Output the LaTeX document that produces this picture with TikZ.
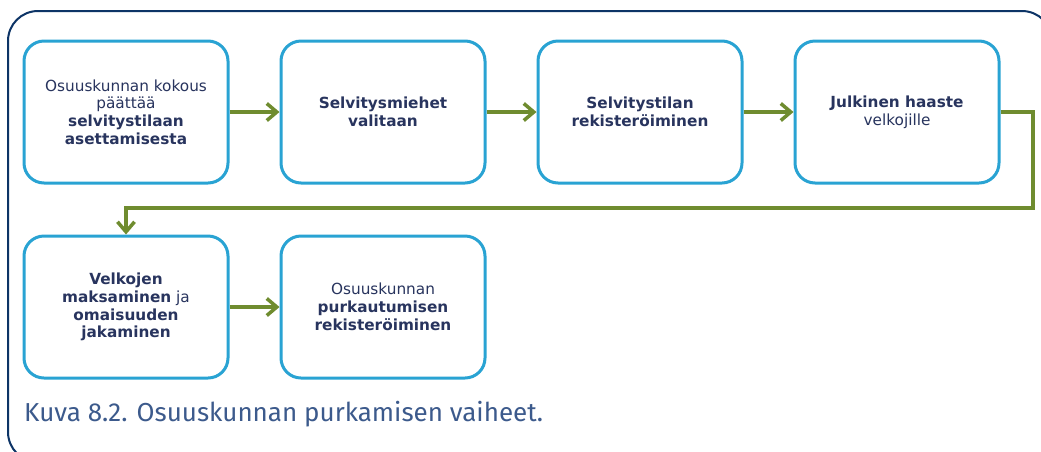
\documentclass[tikz,border=0pt]{standalone}
\usepackage{fontspec}
\setmainfont{DejaVu Sans}
\newfontfamily\captionfont{Fira Sans}
\usepackage{xcolor}
\usetikzlibrary{arrows.meta, calc, positioning}

\definecolor{boxblue}{HTML}{29A3D3}
\definecolor{framenavy}{HTML}{0D3466}
\definecolor{flowgreen}{HTML}{6F8C2F}
\definecolor{textnavy}{HTML}{28345E}
\definecolor{captionblue}{HTML}{3C5A8C}

\begin{document}
\begin{tikzpicture}[
    x=1pt, y=-1pt,
    node distance=50pt and 50pt,
    stepbox/.style={
        draw=boxblue, line width=3pt, rounded corners=20pt, fill=white,
        minimum width=204pt, minimum height=142pt, inner sep=4pt,
        align=center, text=textnavy,
        font=\fontsize{15.3}{17.8}\selectfont
    },
    flow/.style={-{Straight Barb[length=10pt, width=17pt, line width=3.5pt]},
        draw=flowgreen, line width=3.5pt},
    frame/.style={draw=framenavy, line width=2pt, rounded corners=30pt},
]
\useasboundingbox (0,0) rectangle (1041,451);
\fill[white] (0,0) rectangle (1041,451);
\draw[frame] (8,11) rectangle (1052,462);

% Row 1
\node[stepbox] (kokous) at (126,112) {Osuuskunnan kokous\\p\"a\"att\"a\"a\\\textbf{selvitystilaan}\\\textbf{asettamisesta}};
\node[stepbox, right=of kokous] (valitaan) {\textbf{Selvitysmiehet}\\\textbf{valitaan}};
\node[stepbox, right=of valitaan] (rekisteri) {\textbf{Selvitystilan}\\\textbf{rekister\"oiminen}};
\node[stepbox, right=of rekisteri] (haaste) {\textbf{Julkinen haaste}\\velkojille};

% Row 2
\node[stepbox, below=of kokous] (velkojen) {\textbf{Velkojen}\\\textbf{maksaminen} ja\\\textbf{omaisuuden}\\\textbf{jakaminen}};
\node[stepbox, right=of velkojen] (purkautuminen) {Osuuskunnan\\\textbf{purkautumisen}\\\textbf{rekister\"oiminen}};

% Caption
\node[anchor=base west, inner sep=0pt, text=captionblue,
      font=\captionfont\fontsize{26}{30}\selectfont] (caption) at (24,421)
      {Kuva 8.2. Osuuskunnan purkamisen vaiheet.};

% Connectors
\coordinate (loopR) at (1033,208);
\draw[flow] (kokous) -- (valitaan);
\draw[flow] (valitaan) -- (rekisteri);
\draw[flow] (rekisteri) -- (haaste);
\draw[flow] (haaste.east) -| (loopR) -| (velkojen.north);
\draw[flow] (velkojen) -- (purkautuminen);
\end{tikzpicture}
\end{document}
